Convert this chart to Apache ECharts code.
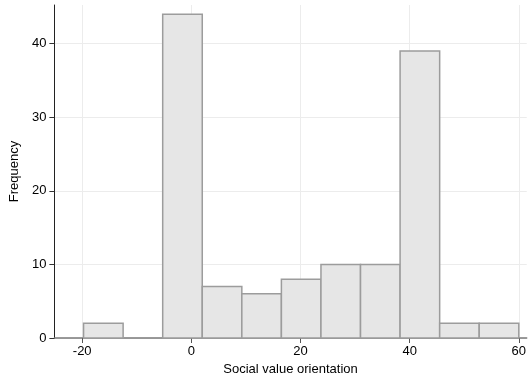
<!DOCTYPE html>
<html>
<head>
<meta charset="utf-8">
<script src="https://cdn.jsdelivr.net/npm/echarts@6/dist/echarts.min.js"></script>
<style>
  html, body { margin: 0; padding: 0; background: #fff; }
  #chart { width: 529px; height: 381px; }
</style>
</head>
<body>
<div id="chart"></div>
<script>
// Histogram of social value orientation (11 equal-width bins up to 60)
const binLower = [-19.75, -12.5, -5.25, 2.0, 9.25, 16.5, 23.75, 31.0, 38.25, 45.5, 52.75];
const binUpper = [-12.5, -5.25, 2.0, 9.25, 16.5, 23.75, 31.0, 38.25, 45.5, 52.75, 60];
const frequency = [2, 0, 44, 7, 6, 8, 10, 10, 39, 2, 2];
const xTicks = [-20, 0, 20, 40, 60];
const yTicks = [0, 10, 20, 30, 40];

const bins = binLower.map((lo, i) => [lo, binUpper[i], frequency[i]]);

const font = 'Liberation Sans, Arial, Helvetica, sans-serif';
const chart = echarts.init(document.getElementById('chart'), null, { renderer: 'canvas' });

chart.setOption({
  animation: false,
  backgroundColor: '#ffffff',
  grid: { left: 53, right: 0, top: 5, bottom: 42 },
  xAxis: {
    type: 'value',
    min: -25.1,
    max: 61.45,
    name: 'Social value orientation',
    nameLocation: 'middle',
    nameGap: 25,
    nameTextStyle: { fontFamily: font, fontSize: 13, color: '#000' },
    axisLine: { show: true, onZero: false, lineStyle: { color: '#7a7a7a', width: 1.5 } },
    axisTick: { show: true, length: 5, customValues: xTicks, lineStyle: { color: '#555' } },
    axisLabel: { customValues: xTicks, fontFamily: font, fontSize: 13, color: '#000', margin: 7 },
    splitLine: { show: true, lineStyle: { color: '#ececec', width: 1 } }
  },
  yAxis: {
    type: 'value',
    min: 0,
    max: 45.26,
    name: 'Frequency',
    nameLocation: 'middle',
    nameGap: 31,
    nameRotate: 90,
    nameTextStyle: { fontFamily: font, fontSize: 13, color: '#000' },
    axisLine: { show: true, onZero: false, lineStyle: { color: '#222', width: 1 } },
    axisTick: { show: true, length: 5, customValues: yTicks, lineStyle: { color: '#333' } },
    axisLabel: { customValues: yTicks, fontFamily: font, fontSize: 13, color: '#000', margin: 8 },
    splitLine: { show: true, lineStyle: { color: '#ececec', width: 1 } }
  },
  series: [{
    type: 'custom',
    data: bins,
    encode: { x: [0, 1], y: 2 },
    renderItem: function (params, api) {
      const count = api.value(2);
      if (!count) return null;
      const topLeft = api.coord([api.value(0), count]);
      const bottomRight = api.coord([api.value(1), 0]);
      return {
        type: 'rect',
        shape: {
          x: topLeft[0],
          y: topLeft[1],
          width: bottomRight[0] - topLeft[0],
          height: bottomRight[1] - topLeft[1]
        },
        style: { fill: '#e6e6e6', stroke: '#9c9c9c', lineWidth: 1.5 }
      };
    }
  }]
});
</script>
</body>
</html>
